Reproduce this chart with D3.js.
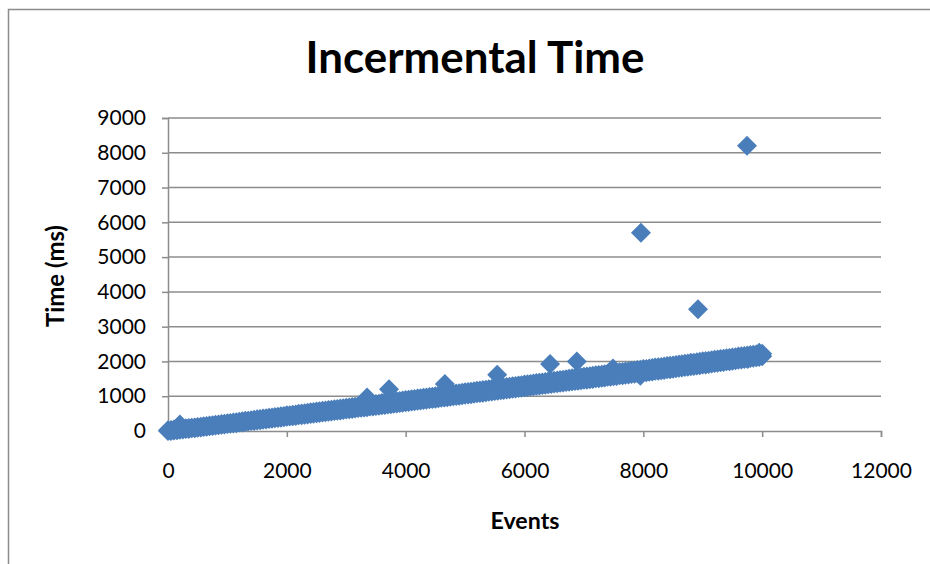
<!DOCTYPE html>
<html>
<head>
<meta charset="utf-8">
<script src="https://cdn.jsdelivr.net/npm/d3@7"></script>
<style>
  html, body { margin: 0; padding: 0; background: #fff; }
  svg { display: block; }
  text { font-family: Lato, "Open Sans", sans-serif; fill: #000; }
</style>
</head>
<body>
<svg id="chart" width="930" height="564"></svg>
<script>
// Event counts along the main run (step of 100 events)
const runEvents = [
  0, 100, 200, 300, 400, 500, 600, 700, 800, 900,
  1000, 1100, 1200, 1300, 1400, 1500, 1600, 1700, 1800, 1900,
  2000, 2100, 2200, 2300, 2400, 2500, 2600, 2700, 2800, 2900,
  3000, 3100, 3200, 3300, 3400, 3500, 3600, 3700, 3800, 3900,
  4000, 4100, 4200, 4300, 4400, 4500, 4600, 4700, 4800, 4900,
  5000, 5100, 5200, 5300, 5400, 5500, 5600, 5700, 5800, 5900,
  6000, 6100, 6200, 6300, 6400, 6500, 6600, 6700, 6800, 6900,
  7000, 7100, 7200, 7300, 7400, 7500, 7600, 7700, 7800, 7900,
  8000, 8100, 8200, 8300, 8400, 8500, 8600, 8700, 8800, 8900,
  9000, 9100, 9200, 9300, 9400, 9500, 9600, 9700, 9800, 9900,
  10000
];
// Slower samples at each event count (ms)
const runTimeHigh = [
  20, 42, 58, 78, 96, 118, 138, 161, 178, 202,
  226, 244, 268, 292, 310, 336, 356, 378, 402, 424,
  450, 466, 494, 513, 538, 558, 584, 603, 628, 646,
  672, 688, 714, 733, 760, 778, 802, 823, 850, 866,
  892, 910, 937, 955, 980, 998, 1024, 1043, 1070, 1088,
  1112, 1130, 1157, 1176, 1203, 1220, 1247, 1262, 1290, 1308,
  1335, 1352, 1380, 1398, 1422, 1443, 1470, 1488, 1515, 1532,
  1558, 1575, 1603, 1620, 1648, 1665, 1692, 1708, 1735, 1752,
  1780, 1798, 1825, 1842, 1870, 1886, 1915, 1932, 1960, 1978,
  2005, 2022, 2050, 2068, 2095, 2112, 2140, 2158, 2185, 2203,
  2220
];
// Faster samples at each event count (ms)
const runTimeLow = [
  0, 14, 36, 54, 76, 93, 116, 133, 161, 178,
  202, 218, 242, 260, 287, 303, 327, 343, 367, 383,
  410, 426, 450, 468, 492, 510, 534, 553, 577, 593,
  620, 636, 662, 678, 702, 720, 744, 763, 787, 803,
  830, 846, 872, 888, 914, 930, 957, 973, 1000, 1016,
  1042, 1060, 1087, 1103, 1130, 1148, 1174, 1193, 1217, 1236,
  1260, 1278, 1302, 1320, 1344, 1363, 1387, 1406, 1430, 1448,
  1472, 1490, 1514, 1533, 1557, 1576, 1600, 1618, 1642, 1660,
  1687, 1703, 1730, 1748, 1774, 1793, 1820, 1838, 1864, 1883,
  1910, 1928, 1957, 1976, 2002, 2023, 2050, 2070, 2097, 2118,
  2150
];
// Samples between the above event counts
const midEvents = [
  50, 150, 250, 350, 450, 550, 650, 750, 850, 950,
  1050, 1150, 1250, 1350, 1450, 1550, 1650, 1750, 1850, 1950,
  2050, 2150, 2250, 2350, 2450, 2550, 2650, 2750, 2850, 2950,
  3050, 3150, 3250, 3350, 3450, 3550, 3650, 3750, 3850, 3950,
  4050, 4150, 4250, 4350, 4450, 4550, 4650, 4750, 4850, 4950,
  5050, 5150, 5250, 5350, 5450, 5550, 5650, 5750, 5850, 5950,
  6050, 6150, 6250, 6350, 6450, 6550, 6650, 6750, 6850, 6950,
  7050, 7150, 7250, 7350, 7450, 7550, 7650, 7750, 7850, 7950,
  8050, 8150, 8250, 8350, 8450, 8550, 8650, 8750, 8850, 8950,
  9050, 9150, 9250, 9350, 9450, 9550, 9650, 9750, 9850, 9950
];
const midTimeHigh = [
  28, 47, 65, 84, 104, 125, 147, 167, 187, 211,
  232, 253, 277, 298, 320, 343, 364, 387, 410, 434,
  455, 477, 501, 523, 545, 568, 591, 613, 634, 656,
  677, 698, 721, 744, 766, 787, 810, 834, 855, 876,
  898, 921, 943, 965, 986, 1008, 1031, 1054, 1076, 1097,
  1118, 1141, 1164, 1187, 1209, 1231, 1252, 1273, 1296, 1319,
  1341, 1363, 1386, 1407, 1430, 1454, 1476, 1499, 1521, 1542,
  1564, 1586, 1609, 1631, 1654, 1676, 1697, 1719, 1741, 1763,
  1786, 1809, 1831, 1853, 1875, 1898, 1921, 1943, 1966, 1989,
  2011, 2033, 2056, 2079, 2101, 2123, 2146, 2168, 2191, 2210
];
const midTimeLow = [
  3, 21, 41, 61, 80, 100, 120, 143, 165, 186,
  206, 226, 247, 270, 291, 311, 331, 351, 371, 393,
  414, 434, 455, 476, 497, 518, 540, 561, 581, 602,
  624, 645, 666, 686, 707, 728, 750, 771, 791, 812,
  834, 855, 876, 897, 918, 939, 961, 982, 1004, 1025,
  1047, 1069, 1091, 1112, 1135, 1157, 1179, 1201, 1222, 1244,
  1265, 1286, 1307, 1328, 1350, 1371, 1392, 1414, 1435, 1456,
  1477, 1498, 1519, 1541, 1562, 1584, 1605, 1626, 1647, 1669,
  1691, 1712, 1735, 1757, 1779, 1802, 1825, 1847, 1869, 1892,
  1915, 1938, 1962, 1985, 2008, 2032, 2056, 2079, 2103, 2130
];
// Isolated samples away from the main run
const spikeEvents = [200, 3350, 3720, 4660, 5540, 6430, 6880, 7490, 7950, 7960, 8920, 9745, 9760, 9950];
const spikeTimes  = [190,  960, 1200, 1350, 1620, 1930, 2000, 1800, 1590, 5700, 3500, 8200, 2080, 2250];

const xTicks = [0, 2000, 4000, 6000, 8000, 10000, 12000];
const yTicks = [0, 1000, 2000, 3000, 4000, 5000, 6000, 7000, 8000, 9000];

const titleText = "Incermental Time";
const xTitle = "Events";
const yTitle = "Time (ms)";

const svg = d3.select("#chart");
const plot = { left: 168, right: 881, top: 118, bottom: 431 };
const markerColor = "#4a7ebb";
const gridColor = "#8c8c8c";

// Outer chart frame
svg.append("rect")
  .attr("x", 8.5).attr("y", 9.5)
  .attr("width", 940).attr("height", 600)
  .attr("fill", "none").attr("stroke", "#8c8c8c").attr("stroke-width", 1.5);

const x = d3.scaleLinear().domain([0, 12000]).range([plot.left, plot.right]);
const y = d3.scaleLinear().domain([0, 9000]).range([plot.bottom, plot.top]);

// Horizontal gridlines
svg.append("g")
  .selectAll("line")
  .data(yTicks.filter(v => v > 0))
  .join("line")
  .attr("x1", plot.left).attr("x2", plot.right)
  .attr("y1", d => y(d)).attr("y2", d => y(d))
  .attr("stroke", gridColor).attr("stroke-width", 1.5);

// Y axis
const yAxis = svg.append("g")
  .attr("transform", `translate(${plot.left},0)`)
  .call(d3.axisLeft(y).tickValues(yTicks).tickSize(6).tickPadding(16).tickFormat(d3.format("d")));
yAxis.select(".domain").attr("stroke", gridColor).attr("stroke-width", 1.5);
yAxis.selectAll(".tick line").attr("stroke", gridColor).attr("stroke-width", 1.5);
yAxis.selectAll(".tick text")
  .style("font-family", "Lato, sans-serif").style("font-size", "21px").attr("fill", "#000");

// X axis
const xAxis = svg.append("g")
  .attr("transform", `translate(0,${plot.bottom})`)
  .call(d3.axisBottom(x).tickValues(xTicks).tickSize(6).tickPadding(26).tickFormat(d3.format("d")));
xAxis.select(".domain").attr("stroke", gridColor).attr("stroke-width", 1.5);
xAxis.selectAll(".tick line").attr("stroke", gridColor).attr("stroke-width", 1.5);
xAxis.selectAll(".tick text")
  .style("font-family", "Lato, sans-serif").style("font-size", "21px").attr("fill", "#000");

// Square diamond marker, 20px corner to corner
const diamond = {
  draw(ctx, size) {
    const r = Math.sqrt(size / 2);
    ctx.moveTo(0, -r); ctx.lineTo(r, 0); ctx.lineTo(0, r); ctx.lineTo(-r, 0); ctx.closePath();
  }
};
const markerPath = d3.symbol().type(diamond).size(200)();

const points = [];
runEvents.forEach((e, i) => {
  points.push({ e, t: runTimeLow[i] });
  points.push({ e, t: runTimeHigh[i] });
});
midEvents.forEach((e, i) => {
  points.push({ e, t: midTimeLow[i] });
  points.push({ e, t: midTimeHigh[i] });
});
spikeEvents.forEach((e, i) => points.push({ e, t: spikeTimes[i] }));

svg.append("g")
  .selectAll("path")
  .data(points)
  .join("path")
  .attr("d", markerPath)
  .attr("transform", d => `translate(${x(d.e)},${y(d.t)})`)
  .attr("fill", markerColor);

// Fit a text element to a given width by scaling its font size
function fitWidth(sel, base, width) {
  const w = sel.node().getComputedTextLength();
  sel.style("font-size", (base * width / w).toFixed(1) + "px");
}

// Title
const title = svg.append("text")
  .attr("x", 475).attr("y", 73)
  .attr("text-anchor", "middle")
  .style("font-size", "40px").style("font-weight", "bold")
  .text(titleText);
fitWidth(title, 40, 339);

// Axis titles
const xt = svg.append("text")
  .attr("x", 525).attr("y", 529)
  .attr("text-anchor", "middle")
  .style("font-size", "20px").style("font-weight", "bold")
  .text(xTitle);
fitWidth(xt, 20, 69);

const yt = svg.append("text")
  .attr("transform", "translate(64,276) rotate(-90)")
  .attr("text-anchor", "middle")
  .style("font-size", "20px").style("font-weight", "bold")
  .text(yTitle);
fitWidth(yt, 20, 102);
</script>
</body>
</html>
